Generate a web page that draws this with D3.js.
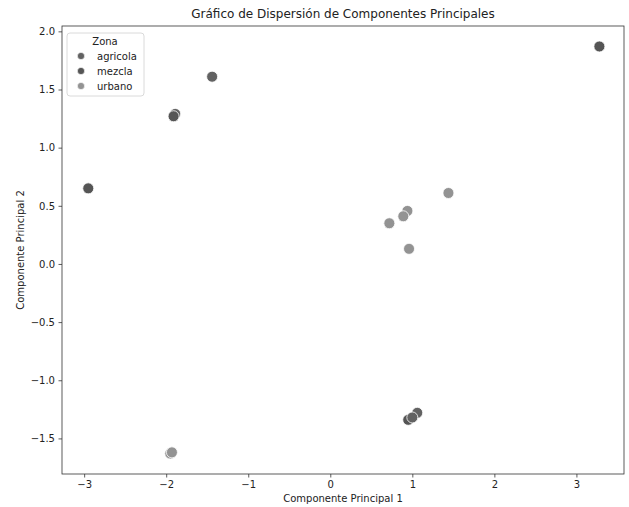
<!DOCTYPE html>
<html>
<head>
<meta charset="utf-8">
<script src="https://cdn.jsdelivr.net/npm/d3@7"></script>
<style>
  body { margin: 0; background: #fff; }
  text { font-family: "DejaVu Sans", sans-serif; fill: #222; }
</style>
</head>
<body>
<svg id="chart" width="629" height="507"></svg>
<script>
// datos
var zonas = ["agricola", "mezcla", "urbano"];
var colores = ["#626262", "#555555", "#939393"];

var pc1 = [3.28, -1.44, -1.89, -1.91, -2.95, 1.06, 0.95, 1.0, 1.44, 0.94, 0.89, 0.72, 0.96, -1.95, -1.93];
var pc2 = [1.87, 1.61, 1.29, 1.27, 0.65, -1.28, -1.34, -1.32, 0.61, 0.456, 0.41, 0.35, 0.13, -1.63, -1.62];
var zona = ["mezcla", "agricola", "agricola", "mezcla", "mezcla", "agricola", "mezcla", "agricola",
            "urbano", "urbano", "urbano", "urbano", "urbano", "urbano", "urbano"];

var xTicks = [-3, -2, -1, 0, 1, 2, 3];
var yTicks = [-1.5, -1.0, -0.5, 0.0, 0.5, 1.0, 1.5, 2.0];

var svg = d3.select("#chart");
var mLeft = 62, mRight = 624, mTop = 26, mBottom = 474;

var x = d3.scaleLinear().domain([-3.27, 3.58]).range([mLeft, mRight]);
var y = d3.scaleLinear().domain([-1.806, 2.046]).range([mBottom, mTop]);
var color = d3.scaleOrdinal().domain(zonas).range(colores);

// ejes
var gx = svg.append("g").attr("transform", "translate(0," + mBottom + ")")
    .call(d3.axisBottom(x).tickValues(xTicks).tickSize(3.5).tickPadding(3.5)
        .tickFormat(function(d){ return d < 0 ? "\u2212" + Math.abs(d) : d; }));
var gy = svg.append("g").attr("transform", "translate(" + mLeft + ",0)")
    .call(d3.axisLeft(y).tickValues(yTicks).tickSize(3.5).tickPadding(3.5)
        .tickFormat(function(d){ var s = Math.abs(d).toFixed(1); return d < 0 ? "\u2212" + s : s; }));
[gx, gy].forEach(function(g){
    g.select(".domain").remove();
    g.selectAll("line").attr("stroke", "#333").attr("stroke-width", 0.8);
    g.selectAll("text").style("font-size", "10px").style("font-family", "DejaVu Sans").attr("fill", "#222");
});

// marco
svg.append("rect")
    .attr("x", mLeft).attr("y", mTop).attr("width", mRight - mLeft).attr("height", mBottom - mTop)
    .attr("fill", "none").attr("stroke", "#333").attr("stroke-width", 0.8);

// puntos
var idx = d3.range(pc1.length);
svg.append("g").selectAll("circle")
    .data(idx)
    .enter()
    .append("circle")
    .attr("cx", function(i){ return x(pc1[i]); })
    .attr("cy", function(i){ return y(pc2[i]); })
    .attr("r", 5.5)
    .attr("fill", function(i){ return color(zona[i]); })
    .attr("stroke", "#fff")
    .attr("stroke-width", 0.8);

// titulos
svg.append("text")
    .attr("x", (mLeft + mRight) / 2).attr("y", 18)
    .attr("text-anchor", "middle").style("font-size", "12px")
    .text("Gráfico de Dispersión de Componentes Principales");
svg.append("text")
    .attr("x", (mLeft + mRight) / 2).attr("y", 502)
    .attr("text-anchor", "middle").style("font-size", "10px")
    .text("Componente Principal 1");
svg.append("text")
    .attr("transform", "translate(24," + ((mTop + mBottom) / 2) + ") rotate(-90)")
    .attr("text-anchor", "middle").style("font-size", "10px")
    .text("Componente Principal 2");

// leyenda
var leg = svg.append("g");
leg.append("rect")
    .attr("x", 67).attr("y", 33).attr("width", 77).attr("height", 63)
    .attr("rx", 3).attr("fill", "#fff").attr("fill-opacity", 0.8)
    .attr("stroke", "#d0d0d0").attr("stroke-width", 0.8);
leg.append("text")
    .attr("x", 105).attr("y", 45)
    .attr("text-anchor", "middle").style("font-size", "10px")
    .text("Zona");
zonas.forEach(function(z, i){
    leg.append("circle")
        .attr("cx", 81).attr("cy", 56 + 15 * i).attr("r", 3.6)
        .attr("fill", color(z)).attr("stroke", "#fff").attr("stroke-width", 0.6);
    leg.append("text")
        .attr("x", 97).attr("y", 59.5 + 15 * i)
        .style("font-size", "10px")
        .text(z);
});
</script>
</body>
</html>
